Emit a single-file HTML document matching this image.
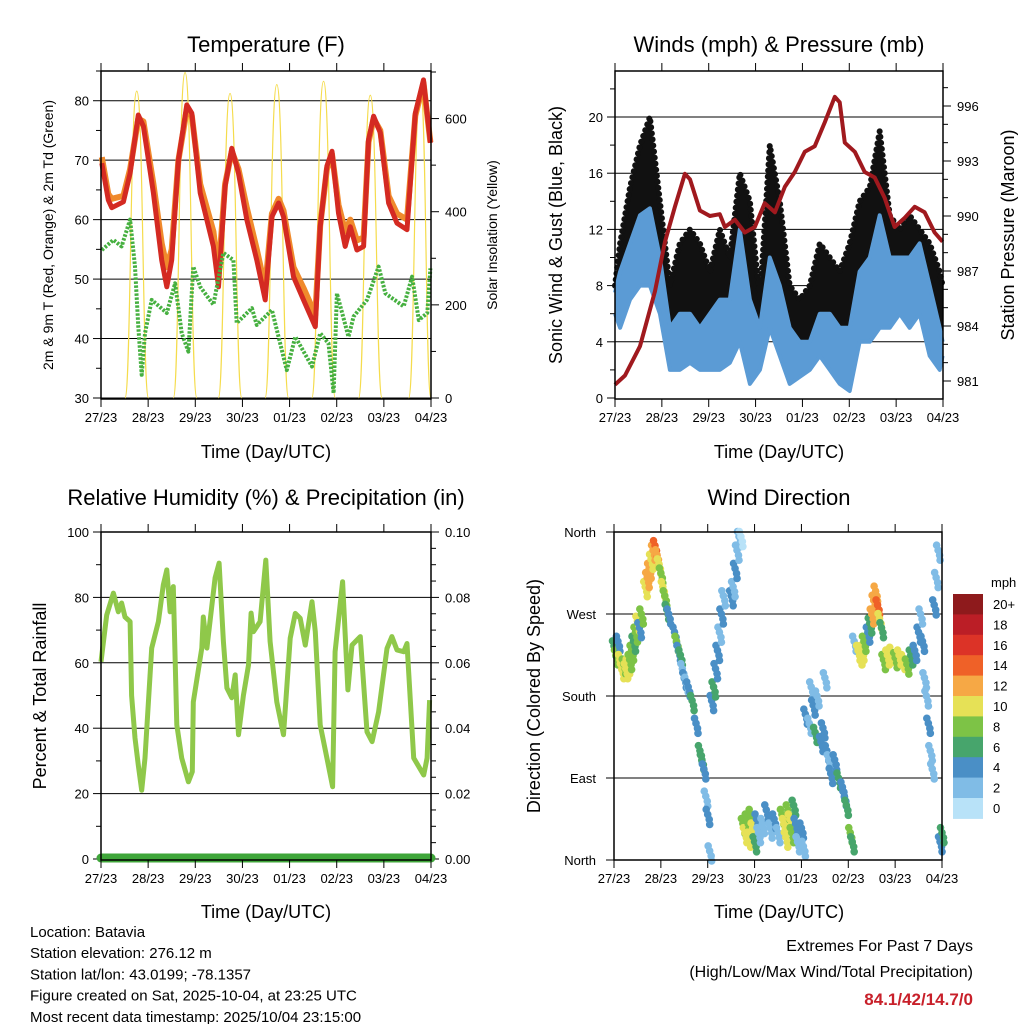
<!DOCTYPE html>
<html><head><meta charset="utf-8"><style>
body{margin:0;background:#fff;}
svg{display:block;font-family:"Liberation Sans",sans-serif;}
</style></head><body>
<svg id="c" width="1024" height="1024" viewBox="0 0 1024 1024"></svg>
<script>
// ---------- data ----------
const dayLabels=["27/23","28/23","29/23","30/23","01/23","02/23","03/23","04/23"];
// temperature panel (hours since start)
const tHours=[0.4,3.7,5.5,11.4,14.8,19,21.6,26.7,30.9,33.5,36,39.4,43.7,46.2,50.5,57.2,59.8,63.2,66.6,70,74.2,79.3,83.6,87,90.4,92.9,98,103.1,109.1,111.6,115,117.6,120.9,124.3,126.9,130.3,133.7,136.2,138.8,142.2,146.4,150.7,155.8,160,164.2,167.7];
const tempRed=[69.5,63.3,62,63,67.8,77.6,75.7,64.5,53.2,48.7,53.2,70,79.3,77.9,64.5,55.5,48.7,65.6,72,67.8,60,53.2,46.5,60.5,62.8,60.5,50.4,46.5,42,58.8,69,71.5,61.1,55.5,58.8,54.9,55.5,73.4,77.4,74.6,62.8,59.4,58.3,77.9,83.5,72.9];
const tempOrange=[70.5,64.3,63.5,64,68.5,77,76.5,66,56,52,55,70,78.5,77.5,66,58,51,66,71.5,68.5,62,55,48.5,61,63.5,61.5,52,48.5,44,59,68.5,71,62.5,58,60,56.5,57,73,77,75,64,61,60,77.5,83,73];
const tdHours=[0.4,6.3,10.5,14.8,17.3,19,20.7,22.4,25.8,33.5,37.7,41.1,44.5,47,50.5,57.2,62.3,67.4,69.1,76.8,79.3,87,94.6,98.9,107.4,111.6,115.8,118.4,120.1,126,128.6,135.4,141.3,144.8,154.1,158.4,161.8,166.1,167.7];
const dewpoint=[54.9,56.6,55.5,60,52.1,42,33.9,40.9,46.5,44.3,49.3,40.9,37.8,52.1,48.7,45.7,54.4,53.2,42.6,45.1,42.3,44.8,34.7,40.3,35.3,40.9,39.2,30.8,47.6,40.3,43.7,46.5,52.1,47.6,45.4,50.4,43.1,44.3,51.8];
const solarPeakHour=[18.2,42.8,65.7,89.5,113.3,137.1,162.6];
const solarPeak=[659,699,654,673,680,650,667];
const solarHalfDay=[6,6,6,6,6,6,6];
// winds panel
const wHours=[0,2.6,7.7,12.8,17.9,23,28.1,33.2,38.4,43.5,48.6,53.7,58.8,63.9,69.1,74.2,79.3,84.4,89.5,94.6,99.8,104.9,110,115.1,120.2,125.3,130.5,135.6,140.7,145.8,150.9,156,161.2,166.3,167.8];
const windHigh=[7.5,9,11,13,13.5,10,5,6,6,5,6,7,7,12,7,5,10,8,5,4,4,6,6,5,5,9,10,13,10,10,10,11,8,5,4];
const windLow=[6,5,7,8,8,6,2,2,2.5,2,2,2,2.5,4,1,2,5,3,1,1.5,2,3,2,1,0.5,4,4,5,5,6,5,6,3,2,3];
const gustHigh=[8,11,15,18,20,14,8,11,12,11,9,12,10,16,14,7,18,14,8,7,8,11,10,9,11,14,15,19,13,12,13,12,11,9,8];
const pHours=[0,5.1,12.8,20.5,25.6,30.7,35.8,38.4,43.5,48.6,53.7,56.3,61.4,66.5,71.6,76.7,81.9,87,92.1,97.2,102.3,107.4,112.6,115.1,117.7,122.8,127.9,133,138.1,143.2,148.4,153.5,158.6,163.7,167.8];
const pressure=[980.8,981.3,982.9,985.9,988.6,990.5,992.3,992.0,990.3,990.0,990.1,989.4,989.8,989.1,989.4,990.7,990.2,991.6,992.4,993.5,993.8,995.1,996.5,996.2,994.0,993.5,992.4,992.1,991.0,989.4,989.9,990.5,990.2,989.1,988.6];
// RH panel
const rhHours=[0,2.9,6.3,8.8,10.5,12.2,14.8,15.6,17.3,19,20.7,22.4,25.8,29.2,31.7,33.5,35.2,36.8,38.6,41.1,44.5,46.5,47,51.3,52.1,53.9,58.1,60.1,62.3,64.1,66.6,68.3,70,72.5,75.1,76.4,77.6,81,83.9,86.1,89.5,92.9,96.3,98.9,101.4,104,107.4,109.1,111.6,115,117.9,119.2,123,125.7,127.8,132,135.4,138,141.3,145.6,148.1,150.7,154.1,155.8,159.2,164.3,166,167.3];
const rhVals=[60.3,74.6,81.3,75.6,78.3,74,72.6,50,37,28.7,21,30.9,64.5,72.6,83.8,88.4,75.6,83.3,41,30.9,23.6,26.7,48,64.5,74,64.5,86,90.5,66.5,52.3,49.3,56.3,38,50,59.3,75.2,69.5,72.6,91.4,66.5,48,38,67.5,75.1,73.6,65.4,78.7,69.5,41,30.9,22.1,63.4,84.8,51.7,65.4,68,38.9,35.9,45,64.4,68,63.9,63.4,65.9,30.9,25.7,30.9,48.6];
// wind direction panel
const wdHour=[0,1,2,3,4,5,6,7,8,9,10,11,12,13,14,16,17,18,19,20,21,22,23,24,25,26,27,28,31,32,33,34,35,36,37,38,40,42,44,45,46,47,48,49,50,51,52,53,54,55,56,60,61,62,63,64,65,66,67,68,69,70,71,72,73,74,76,78,80,82,84,86,87,88,89,90,91,92,93,94,96,97,98,100,101,102,103,104,106,107,108,109,110,111,113,115,117,118,119,121,122,123,125,126,127,128,130,131,132,133,134,135,136,137,138,140,142,144,146,148,150,152,154,156,157,158,159,160,161,162,163,164,165,166,167,168];
const wdDir=[235,225,240,220,210,215,210,215,220,230,240,250,262,255,270,300,310,320,330,340,345,335,325,315,300,290,275,270,250,240,230,225,210,200,195,190,175,150,120,110,100,70,50,10,175,190,210,230,250,270,290,290,300,320,340,355,355,40,30,45,25,50,35,20,45,30,40,55,35,45,30,50,40,25,55,45,30,60,40,20,35,15,160,150,190,170,140,180,130,145,200,120,110,95,110,90,80,70,60,30,20,240,230,225,230,240,250,260,270,285,295,280,265,255,220,225,228,222,225,220,215,225,230,250,270,240,200,180,150,120,100,280,310,340,20,30];
const wdSpd=[6,8,5,10,10,9,10,10,9,8,6,8,10,4,8,10,12,12,11,13,14,12,10,9,10,8,6,4,4,8,4,6,3,4,2,4,6,4,6,7,5,3,4,3,4,6,4,5,3,4,2,4,3,4,3,2,1,8,10,9,11,8,10,6,4,3,3,4,2,4,3,8,10,11,9,10,8,6,4,3,4,2,4,3,2,4,6,3,4,5,3,4,3,4,5,6,5,4,6,8,6,2,10,10,11,8,4,6,12,12,13,14,10,7,8,10,10,9,11,10,8,6,4,5,3,4,3,2,4,3,2,4,3,2,5,6];
const cbLabels=["20+","18","16","14","12","10","8","6","4","2","0"];
const cbColors=["#8e1a1c","#bb1e26","#dc3327","#ef6128","#f6a845","#e6e156","#7dc346","#47a56c","#4a8fc6","#80bce6","#b8e2f8"];

// ---------- helpers ----------
const NS="http://www.w3.org/2000/svg";
const svg=document.getElementById('c');
function mk(tag,attrs,parent){const e=document.createElementNS(NS,tag);for(const k in attrs)e.setAttribute(k,attrs[k]);(parent||svg).appendChild(e);return e;}
function txt(s,x,y,size,anchor,rot,parent,fill,weight){const t=mk('text',{x:x,y:y,'font-size':size,'text-anchor':anchor||'middle',fill:fill||'#000'},parent);if(weight)t.setAttribute('font-weight',weight);if(rot)t.setAttribute('transform','rotate(-90 '+x+' '+y+')');t.textContent=s;return t;}
function lin(d0,d1,r0,r1){return v=>r0+(v-d0)/(d1-d0)*(r1-r0);}
function pathD(xs,ys,sx,sy){let d='';for(let i=0;i<xs.length;i++)d+=(i?'L':'M')+sx(xs[i]).toFixed(1)+','+sy(ys[i]).toFixed(1);return d;}
function poly(xs,ys,sx,sy,attrs,parent){return mk('path',Object.assign({d:pathD(xs,ys,sx,sy),fill:'none'},attrs),parent);}
function band(xs,lo,hi,sx,sy,fill,parent){let d='';for(let i=0;i<xs.length;i++)d+=(i?'L':'M')+sx(xs[i]).toFixed(1)+','+sy(hi[i]).toFixed(1);for(let i=xs.length-1;i>=0;i--)d+='L'+sx(xs[i]).toFixed(1)+','+sy(lo[i]).toFixed(1);return mk('path',{d:d+'Z',fill:fill},parent);}
function yticks(g,x0,x1,sy,lv,minor,lfmt,rticks,rsy,rminor){
  lv.forEach(v=>{const y=sy(v);mk('line',{x1:x0-8,x2:x0,y1:y,y2:y,stroke:'#000'},g);txt(lfmt?lfmt(v):v,x0-12,y+5,13,'end',0,g);});
  minor.forEach(v=>{const y=sy(v);mk('line',{x1:x0-5,x2:x0,y1:y,y2:y,stroke:'#000'},g);});
  if(rticks){rticks.forEach(v=>{const y=rsy(v);mk('line',{x1:x1,x2:x1+8,y1:y,y2:y,stroke:'#000'},g);});(rminor||[]).forEach(v=>{const y=rsy(v);mk('line',{x1:x1,x2:x1+5,y1:y,y2:y,stroke:'#000'},g);});}
}
function frame(g,x0,x1,y0,y1,sx){
  for(let d=0;d<=7;d++){const x=sx(d*24);mk('line',{x1:x,x2:x,y1:y1,y2:y1+8,stroke:'#000','stroke-width':1},g);mk('line',{x1:x,x2:x,y1:y0,y2:y0-8,stroke:'#000','stroke-width':1},g);
    const t=txt(dayLabels[d],x,y1+23,13,'middle',0,g);}
  mk('rect',{x:x0,y:y0,width:x1-x0,height:y1-y0,fill:'none',stroke:'#000','stroke-width':1.5},g);
}

// ===== Panel 1 : temperature =====
(function(){
const g=mk('g',{});
const x0=101,x1=431,y0=71,y1=399;
const sx=lin(0,168,x0,x1),sy=lin(30,85,398,71),sy2=lin(0,700,398,72);
[30,40,50,60,70,80].forEach(v=>{const y=sy(v);mk('line',{x1:x0,x2:x1,y1:y,y2:y,stroke:'#000','stroke-width':1},g);});
yticks(g,x0,x1,sy,[30,40,50,60,70,80],[35,45,55,65,75,85],null,[0,200,400,600],sy2,[100,300,500,700]);
[0,200,400,600].forEach(v=>{txt(v,x1+14,sy2(v)+5,13,'start',0,g);});
// solar
for(let i=0;i<solarPeakHour.length;i++){
  const h=solarPeakHour[i],w=solarHalfDay[i];
  const xa=sx(Math.max(0,h-w)),xp=sx(h),xb=sx(Math.min(168,h+w)),yb=sy2(0),yp=sy2(solarPeak[i]);
  const d='M'+xa+','+yb+'C'+(xa+(xp-xa)*0.5)+','+yb+' '+(xa+(xp-xa)*0.45)+','+yp+' '+xp+','+yp+'C'+(xp+(xb-xp)*0.55)+','+yp+' '+(xp+(xb-xp)*0.5)+','+yb+' '+xb+','+yb;
  const sp=mk('path',{d:d,fill:'none',stroke:'#f5dc4c','stroke-width':1.2},g);
  
  
}
const po=poly(tHours,tempOrange,sx,sy,{stroke:'#f08a2c','stroke-width':6,'stroke-linejoin':'round'},g);
const pr=poly(tHours,tempRed,sx,sy,{stroke:'#d42a22','stroke-width':5,'stroke-linejoin':'round'},g);
const pd=poly(tdHours,dewpoint,sx,sy,{stroke:'#46b040','stroke-width':4,'stroke-dasharray':'2.5 1.5','stroke-linejoin':'round'},g);
frame(g,x0,x1,y0,y1,sx);
const t=txt('Temperature (F)',266,52,22,'middle',0,g);
const a=txt('Time (Day/UTC)',266,458,18,'middle',0,g);
const l=txt('2m & 9m T (Red, Orange) & 2m Td (Green)',53,235,14,'middle',1,g);
const r=txt('Solar Insolation (Yellow)',497,235,14,'middle',1,g);
})();

// ===== Panel 2 : winds =====
(function(){
const g=mk('g',{});
const x0=615,x1=943,y0=71,y1=399;
const sx=lin(0,168,x0,x1),sy=lin(0,20,398,117),sp=lin(981,996,381,106);
[4,8,12,16,20].forEach(v=>{const y=sy(v);mk('line',{x1:x0,x2:x1,y1:y,y2:y,stroke:'#000'},g);});
yticks(g,x0,x1,sy,[0,4,8,12,16,20],[2,6,10,14,18,22],null,[981,984,987,990,993,996],sp,[982,983,985,986,988,989,991,992,994,995,997]);
[981,984,987,990,993,996].forEach(v=>{txt(v,x1+14,sp(v)+5,13,'start',0,g);});
const gb=band(wHours,windLow,gustHigh,sx,sy,'#111',g);
const gl=poly(wHours,gustHigh,sx,sy,{stroke:'#111','stroke-width':6,'stroke-dasharray':'0.1 6','stroke-linecap':'round'},g);
const wb=band(wHours,windLow,windHigh,sx,sy,'#5b9bd5',g);
const wl=poly(wHours,windLow,sx,sy,{stroke:'#5b9bd5','stroke-width':4,'stroke-linejoin':'round'},g);
const wh=poly(wHours,windHigh,sx,sy,{stroke:'#5b9bd5','stroke-width':4,'stroke-linejoin':'round'},g);
const pl=poly(pHours,pressure,sx,sp,{stroke:'#a0191e','stroke-width':4,'stroke-linejoin':'round'},g);
frame(g,x0,x1,y0,y1,sx);
const t=txt('Winds (mph) & Pressure (mb)',779,52,22,'middle',0,g);
const a=txt('Time (Day/UTC)',779,458,18,'middle',0,g);
const l=txt('Sonic Wind & Gust (Blue, Black)',562,235,18,'middle',1,g);
const r=txt('Station Pressure (Maroon)',1014,235,18,'middle',1,g);
})();

// ===== Panel 3 : RH =====
(function(){
const g=mk('g',{});
const x0=101,x1=431,y0=532,y1=860;
const sx=lin(0,168,x0,x1),sy=lin(0,100,859,532);
[20,40,60,80].forEach(v=>{const y=sy(v);mk('line',{x1:x0,x2:x1,y1:y,y2:y,stroke:'#000'},g);});
yticks(g,x0,x1,sy,[0,20,40,60,80,100],[10,30,50,70,90],null,[0,20,40,60,80,100],sy,[5,10,15,25,30,35,45,50,55,65,70,75,85,90,95]);
[0,20,40,60,80,100].forEach(v=>{txt((v/1000).toFixed(2),x1+14,sy(v)+5,13,'start',0,g);});
const rl=poly(rhHours,rhVals,sx,sy,{stroke:'#8fc84a','stroke-width':5,'stroke-linejoin':'round'},g);
const pr=mk('line',{x1:x0,x2:x1,y1:858,y2:858,stroke:'#3fa63a','stroke-width':9,'stroke-linecap':'round'},g);
frame(g,x0,x1,y0,y1,sx);
const t=txt('Relative Humidity (%) & Precipitation (in)',266,505,22,'middle',0,g);
const a=txt('Time (Day/UTC)',266,918,18,'middle',0,g);
const l=txt('Percent & Total Rainfall',46,696,18,'middle',1,g);
})();

// ===== Panel 4 : wind direction =====
(function(){
const g=mk('g',{});
const x0=614,x1=942,y0=532,y1=860;
const sx=lin(0,168,x0,x1),sy=lin(0,360,860,532);
const dn=['North','East','South','West','North'];
[0,90,180,270,360].forEach((v,i)=>{const y=sy(v);mk('line',{x1:x0-8,x2:x1,y1:y,y2:y,stroke:'#000'},g);txt(dn[i],x0-18,y+5,13,'end',0,g);});
function col(s){let i=Math.min(10,Math.floor(s/2));return cbColors[10-i];}
const offs=[[0,0],[1.5,5],[-1.5,-5],[2,10]];
for(let i=0;i<wdHour.length;i++){
  offs.forEach(o=>{
    const c=mk('circle',{cx:sx(wdHour[i])+o[0],cy:sy(wdDir[i])+o[1],r:3.8,fill:col(wdSpd[i])},g);
    
    
  });
}
frame(g,x0,x1,y0,y1,sx);
const cb=mk('g',{},g);
const cy0=594,ch=20.4;
cbColors.forEach((c,i)=>{mk('rect',{x:953,y:cy0+i*ch,width:30,height:ch+0.5,fill:c},cb);const t=txt(cbLabels[i],993,cy0+i*ch+15,13,'start',0,cb);});
txt('mph',991,587,13,'start',0,cb);
const t=txt('Wind Direction',779,505,22,'middle',0,g);
const a=txt('Time (Day/UTC)',779,918,18,'middle',0,g);
const l=txt('Direction (Colored By Speed)',540,696,18,'middle',1,g);
})();

// ===== footer =====
const info=["Location: Batavia","Station elevation: 276.12 m","Station lat/lon: 43.0199; -78.1357","Figure created on Sat, 2025-10-04, at 23:25 UTC","Most recent data timestamp: 2025/10/04 23:15:00"];
info.forEach((s,i)=>{const t=txt(s,30,937+i*21.2,15,'start');});
const e1=txt('Extremes For Past 7 Days',973,951,16,'end');
const e2=txt('(High/Low/Max Wind/Total Precipitation)',973,977,16,'end');
const e3=txt('84.1/42/14.7/0',973,1005,17,'end',0,null,'#c8202a','bold');
</script>
</body></html>
